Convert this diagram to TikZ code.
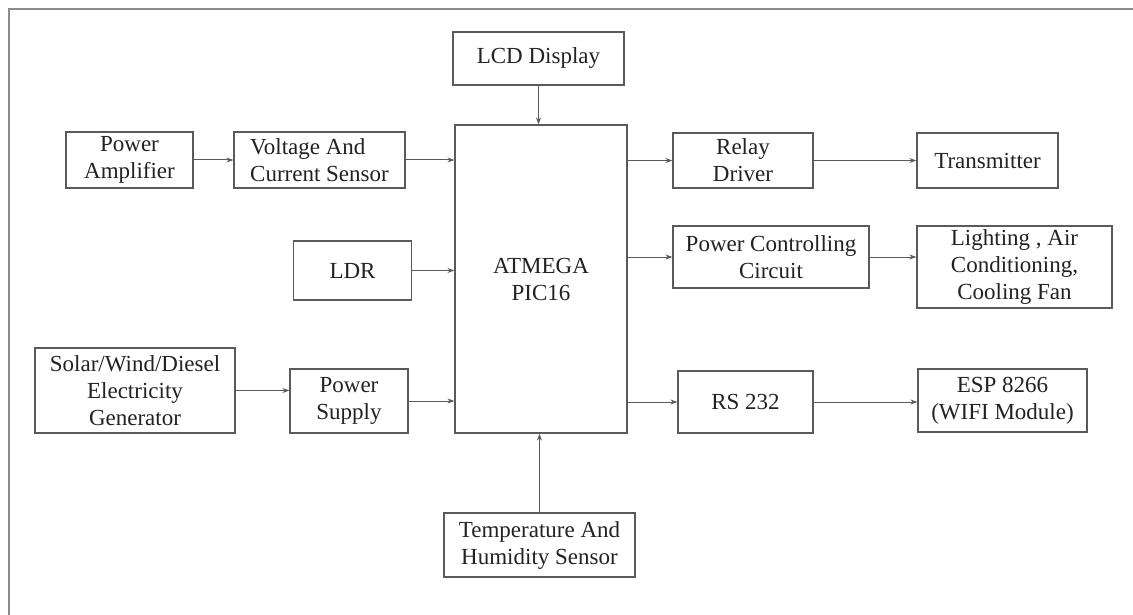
\documentclass[tikz,border=0pt]{standalone}
\usepackage{fontspec}
\setmainfont{Liberation Serif}
\usetikzlibrary{arrows.meta}
\definecolor{linec}{HTML}{5A5A5A}
\definecolor{textc}{HTML}{222222}
\definecolor{framec}{HTML}{8C8C8C}
\begin{document}
\begin{tikzpicture}[x=1pt,y=-1pt,
  box/.style={draw=linec,line width=1.2pt,inner sep=0pt,align=center,text=textc,
    font=\fontsize{23}{27}\selectfont},
  arr/.style={draw=linec,line width=1pt,-{Stealth[length=7pt,width=5pt]}}]
\useasboundingbox (0,0) rectangle (1133,615);
\fill[white] (0,0) rectangle (1133,615);
\draw[framec,line width=1.6pt] (9,615) -- (9,9) -- (1133,9);

\node[box,minimum width=127pt,minimum height=56pt] (pa) at (129.5,160) {Power\\Amplifier};
\node[box,align=left,minimum width=171pt,minimum height=56pt] (vcs) at (319.5,160) {Voltage And\\Current Sensor};
\node[box,minimum width=171pt,minimum height=53pt] (lcd) at (538.5,58.5) {LCD Display};
\node[box,minimum width=172pt,minimum height=308pt] (atm) at (541,279) {ATMEGA\\PIC16};
\node[box,minimum width=118pt,minimum height=59pt] (ldr) at (352.5,270.5) {LDR};
\node[box,minimum width=200pt,minimum height=85pt] (solar) at (135,390.5) {Solar/Wind/Diesel\\Electricity\\Generator};
\node[box,minimum width=118pt,minimum height=64pt] (ps) at (349,401) {Power\\Supply};
\node[box,minimum width=191pt,minimum height=64pt] (temp) at (539.5,545) {Temperature And\\Humidity Sensor};
\node[box,minimum width=140pt,minimum height=55pt] (relay) at (743,160.5) {Relay\\Driver};
\node[box,minimum width=141pt,minimum height=55pt] (tx) at (987.5,160.5) {Transmitter};
\node[box,minimum width=196pt,minimum height=62pt] (pcc) at (771,257) {Power Controlling\\Circuit};
\node[box,minimum width=195pt,minimum height=82pt] (light) at (1014.5,267) {Lighting , Air\\Conditioning,\\Cooling Fan};
\node[box,minimum width=135pt,minimum height=62pt] (rs) at (745.5,402) {RS 232};
\node[box,minimum width=169pt,minimum height=63pt] (esp) at (1002.5,400.5) {ESP 8266\\(WIFI Module)};

\draw[arr] (pa.east) -- (vcs.west);
\draw[arr] (vcs.east) -- (vcs.east -| atm.west);
\draw[arr] (ldr.east) -- (ldr.east -| atm.west);
\draw[arr] (solar.east) -- (solar.east -| ps.west);
\draw[arr] (ps.east) -- (ps.east -| atm.west);
\draw[arr] (lcd.south) -- (lcd.south |- atm.north);
\draw[arr] (relay.west -| atm.east) -- (relay.west);
\draw[arr] (pcc.west -| atm.east) -- (pcc.west);
\draw[arr] (rs.west -| atm.east) -- (rs.west);
\draw[arr] (relay.east) -- (tx.west);
\draw[arr] (pcc.east) -- (pcc.east -| light.west);
\draw[arr] (rs.east) -- (rs.east -| esp.west);
\draw[arr] (temp.north) -- (temp.north |- atm.south);
\end{tikzpicture}
\end{document}
